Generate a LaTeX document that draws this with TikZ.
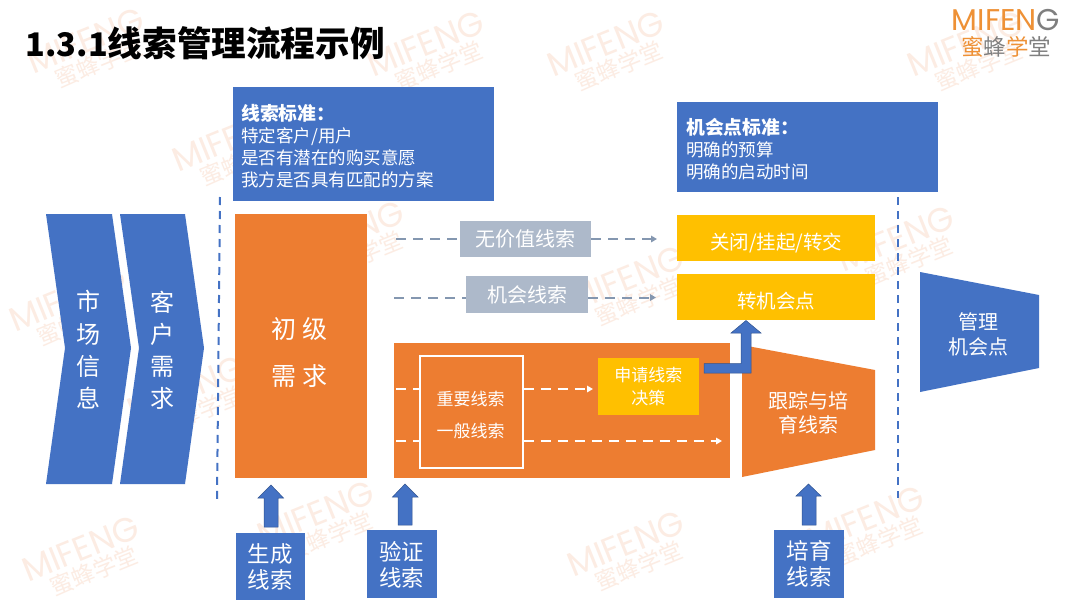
\documentclass[tikz,border=0pt]{standalone}
\usepackage{fontspec}
\setmainfont{Noto Sans CJK SC}
\newfontfamily\logofont{Poppins}
\usetikzlibrary{arrows.meta}
\definecolor{bl}{HTML}{4472C4}
\definecolor{blk}{HTML}{2F528F}
\definecolor{org}{HTML}{ED7D31}
\definecolor{yel}{HTML}{FFC000}
\definecolor{gry}{HTML}{ADB9CA}
\definecolor{dsh}{HTML}{8497B0}
\definecolor{wmc}{HTML}{FCECE3}
\definecolor{lgo}{HTML}{EE9136}
\definecolor{lgg}{HTML}{7F7F7F}
\newcommand{\fs}[2]{\fontsize{#1}{#2}\selectfont}
\newcommand{\wm}[2]{\node[wmark] (#1) at (#2) {{\logofont\fs{34}{36}MIFENG}\\[2pt]\fs{23}{26}\hspace{8pt}蜜蜂学堂};}
\newcommand{\lowered}[2]{\raisebox{-#1}[\height][\depth]{#2}}
\newcommand{\headline}[1]{{\fs{18.8}{22}\bfseries #1}}
\tikzset{
  x=1pt,y=-1pt,
  wmark/.style={text=wmc,rotate=22,align=center,inner sep=0pt},
  solid box/.style={anchor=north west,inner sep=0pt,text=white,align=center},
  bluebox/.style={solid box,fill=bl},
  orangebox/.style={solid box,fill=org},
  yellowbox/.style={solid box,fill=yel},
  graybox/.style={solid box,fill=gry,font=\fs{20}{24}},
  txt/.style={text=white,align=center,inner sep=0pt},
  blockarrow/.style={fill=bl,draw=blk,line width=0.5pt},
  sep/.style={draw=bl,line width=2pt,dash pattern=on 8pt off 6pt},
  grayflow/.style={draw=dsh,line width=2pt,dash pattern=on 10pt off 7pt},
  whiteflow/.style={draw=white,line width=2pt,dash pattern=on 10pt off 7pt},
  tipend/.style={-{Triangle[length=6pt,width=6.5pt]}},
}
\begin{document}
\begin{tikzpicture}
\useasboundingbox (0,0) rectangle (1080,608);
\fill[white] (0,0) rectangle (1080,608);
% watermarks
\wm{w1}{90,52} \wm{w2}{430,55} \wm{w3}{610,55} \wm{w4}{970,55}
\wm{w5}{235,150} \wm{w6}{350,245} \wm{w7}{630,290} \wm{w8}{900,250}
\wm{w9}{72,310} \wm{w10}{985,340} \wm{w11}{190,400}
\wm{w12}{85,560} \wm{w13}{320,525} \wm{w14}{630,555} \wm{w15}{870,530}
% title and logo
\node[anchor=west,inner sep=0pt,font=\bfseries\fs{32.5}{36}] (title) at (25.5,43.5) {1.3.1\fs{34.6}{36}线索管理流程示例};
\node[anchor=center,inner sep=0pt,font=\logofont\fs{30}{32}] (logo) at (1006,20) {\textcolor{lgo}{MIFEN}\textcolor{lgg}{G}};
\node[anchor=center,inner sep=0pt,font=\fs{22.5}{26}] (logocn) at (1006,47) {\textcolor{lgo}{蜜}\textcolor{lgg}{蜂}\textcolor{lgo}{学}\textcolor{lgg}{堂}};
% separators
\coordinate (sa) at (220,197); \coordinate (sb) at (217,502);
\coordinate (sc) at (898,197); \coordinate (sd) at (898,498);
\draw[sep] (sa) -- (sb);
\draw[sep] (sc) -- (sd);
% chevrons
\fill[bl] (46,214) -- (112,214) -- (131,348) -- (112,484) -- (46,484) -- (65,348) -- cycle;
\fill[bl] (120,214) -- (185,214) -- (204,348) -- (185,484) -- (120,484) -- (139,348) -- cycle;
\node[txt,font=\fs{24}{32.3}] (mkt) at (88,350) {市\\场\\信\\息};
\node[txt,font=\fs{24}{32}] (cust) at (162,350) {客\\户\\需\\求};
% standards
\node[bluebox,minimum width=261pt,minimum height=114pt] (std1) at (233,87) {};
\node[txt,anchor=north west,align=left,font=\fs{17.5}{22}] (std1t) at (241,104) {\headline{线索标准：}\\特定客户/用户\\是否有潜在的购买意愿\\我方是否具有匹配的方案};
\node[bluebox,minimum width=261pt,minimum height=90pt] (std2) at (677,102) {};
\node[txt,anchor=north west,align=left,font=\fs{17.5}{22}] (std2t) at (686,118) {\headline{机会点标准：}\\明确的预算\\明确的启动时间};
% initial demand
\node[orangebox,minimum width=132pt,minimum height=264pt] (init) at (235,214) {};
\node[txt,font=\fs{25}{47}] (initt) at (299,353) {初\hspace{6pt}级\\需\hspace{6pt}求};
% outcomes
\node[yellowbox,minimum width=198pt,minimum height=46pt,font=\fs{19.5}{24}] (close) at (677,214.5) {\lowered{5pt}{关闭/挂起/转交}};
\node[yellowbox,minimum width=198pt,minimum height=46pt,font=\fs{19.5}{24}] (oppty) at (677,274) {\lowered{4pt}{转机会点}};
% gray flows
\coordinate (g1s) at (396,239); \coordinate (g1e) at (657,239);
\coordinate (g2s) at (394,297.5); \coordinate (g2e) at (656,297.5);
\node[graybox,minimum width=131pt,minimum height=36.5pt] (nov) at (460,220.5) {无价值线索};
\node[graybox,minimum width=122pt,minimum height=37pt] (opl) at (466,276) {机会线索};
\draw[grayflow] (g1s) -- (nov.west |- g1s);
\draw[grayflow,tipend] (nov.east |- g1e) -- (g1e);
\draw[grayflow] (g2s) -- (opl.west |- g2s);
\draw[grayflow,tipend] (opl.east |- g2e) -- (g2e);
% validation block
\node[orangebox,minimum width=336pt,minimum height=135pt] (val) at (394,343) {};
\node[solid box,draw=white,line width=1.6pt,minimum width=103pt,minimum height=112pt] (cls) at (419,355) {};
\node[txt,font=\fs{17}{32}] (clst) at (470.5,415) {重要线索\\一般线索};
\node[yellowbox,minimum width=101.5pt,minimum height=56.5pt,font=\fs{17}{22.5}] (apply) at (597.5,358) {申请线索\\决策};
\coordinate (f1s) at (396,389); \coordinate (f1e) at (593,389);
\coordinate (f2s) at (396,441); \coordinate (f2e) at (722,441);
\draw[whiteflow] (f1s) -- (cls.west |- f1s);
\draw[whiteflow,tipend] (cls.east |- f1e) -- (f1e);
\draw[whiteflow] (f2s) -- (cls.west |- f2s);
\draw[whiteflow,tipend] (cls.east |- f2e) -- (f2e);
% nurture trapezoid
\fill[org] (742,345) -- (875,370) -- (875,450) -- (742,477) -- cycle;
\node[txt,font=\fs{20}{24}] (trk) at (808,413) {跟踪与培\\育线索};
% bent arrow
\fill[blockarrow] (704,363.5) -- (741,363.5) -- (741,333) -- (731,333) -- (746,320.5) -- (761,333) -- (751,333) -- (751,373) -- (704,373) -- cycle;
% manage trapezoid
\fill[bl] (920,272) -- (1039,295) -- (1039,368) -- (920,392) -- cycle;
\node[txt,font=\fs{20}{25}] (mgr) at (978,334.5) {管理\\机会点};
% bottom labels and arrows
\node[bluebox,minimum width=69.5pt,minimum height=67pt] (gen) at (235.5,533) {};
\node[txt,font=\fs{22.5}{26}] (gent) at (270,567) {生成\\线索};
\node[bluebox,minimum width=70pt,minimum height=67.5pt] (ver) at (367,530) {};
\node[txt,font=\fs{22.5}{26}] (vert) at (401.5,565) {验证\\线索};
\node[bluebox,minimum width=70pt,minimum height=67.5pt,font=\fs{22.5}{26}] (nur) at (774,530) {培育\\线索};
\fill[blockarrow] (264,527) -- (264,498) -- (258,498) -- (271,485) -- (283.5,498) -- (278,498) -- (278,527) -- cycle;
\fill[blockarrow] (398,525) -- (398,497) -- (392.5,497) -- (405,484) -- (418,497) -- (412,497) -- (412,525) -- cycle;
\fill[blockarrow] (802,525) -- (802,496) -- (796,496) -- (808.5,484) -- (821,496) -- (816,496) -- (816,525) -- cycle;
\end{tikzpicture}
\end{document}
